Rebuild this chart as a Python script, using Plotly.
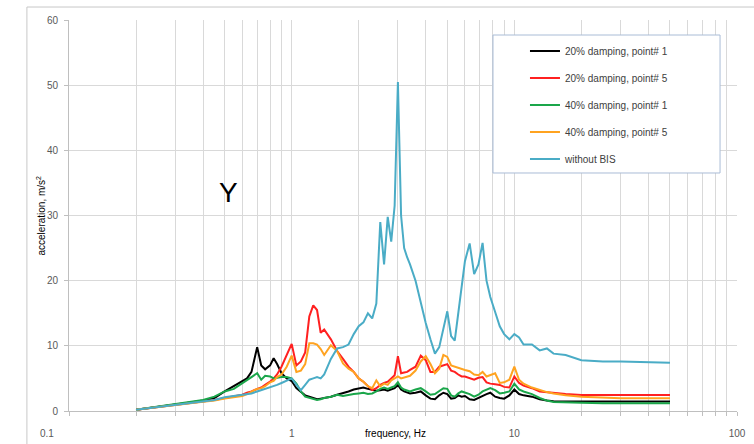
import plotly.graph_objects as go

freq = [0.2, 0.25, 0.3, 0.35, 0.4, 0.45, 0.5, 0.55, 0.6, 0.63, 0.66, 0.7, 0.73, 0.76, 0.8, 0.83, 0.86, 0.9, 0.95,
        1.0, 1.05, 1.1, 1.15, 1.2, 1.25, 1.3, 1.35, 1.4, 1.5, 1.6, 1.7, 1.8, 1.9, 2.0, 2.1, 2.2, 2.3, 2.4, 2.5,
        2.6, 2.7, 2.8, 2.9, 3.0, 3.1, 3.2, 3.3, 3.4, 3.6, 3.8, 4.0, 4.2, 4.4, 4.6, 4.8, 5.0, 5.2, 5.4, 5.6, 5.8,
        6.0, 6.3, 6.6, 6.9, 7.2, 7.5, 7.8, 8.2, 8.6, 9.0, 9.5, 10.0, 10.5, 11, 12, 13, 14, 15, 17, 20, 25, 30, 40, 50]

damp20_p1 = [0.2, 0.6, 1.0, 1.3, 1.6, 2.0, 3.0, 3.8, 4.6, 5.0, 6.0, 9.8, 7.0, 6.4, 7.0, 8.1, 7.2, 5.8, 5.0,
             4.6, 3.5, 3.0, 2.4, 2.2, 2.0, 1.8, 1.9, 2.0, 2.2, 2.5, 2.7, 3.0, 3.3, 3.5, 3.6, 3.4, 3.3, 3.1, 3.2,
             3.3, 3.1, 3.3, 3.5, 4.0, 3.3, 3.0, 2.9, 2.7, 2.8, 3.0, 2.4, 1.9, 1.8, 2.4, 2.8, 2.6, 1.9, 2.0, 2.4, 2.2,
             2.3, 1.8, 1.7, 2.0, 2.4, 2.6, 2.8, 2.2, 2.0, 1.9, 2.4, 3.3, 2.6, 2.4, 2.2, 1.8, 1.6, 1.5, 1.45, 1.45,
             1.45, 1.45, 1.45, 1.45]

damp20_p5 = [0.2, 0.6, 1.0, 1.3, 1.5, 1.7, 2.0, 2.3, 2.5, 2.8, 3.0, 3.4, 3.6, 4.0, 4.5, 5.0, 5.6, 6.8, 8.5,
             10.3, 7.0, 7.6, 9.0, 14.5, 16.2, 15.5, 12.0, 12.5, 11.0, 9.2, 8.0, 6.8, 6.0, 5.0, 4.5, 3.8, 3.2, 3.5, 4.0,
             4.3, 4.5, 5.0, 5.5, 8.4, 5.8, 5.9, 6.0, 6.3, 6.8, 8.5, 7.8, 6.0, 6.0, 6.8, 7.0, 7.2, 6.2, 6.0, 5.6, 5.3,
             5.3, 5.0, 4.8, 5.1, 5.2, 4.4, 4.2, 4.1, 4.0, 3.7, 3.6, 5.3, 4.3, 3.9, 3.5, 3.0, 2.9, 2.7, 2.6, 2.45,
             2.45, 2.45, 2.45, 2.45]

damp40_p1 = [0.2, 0.7, 1.1, 1.4, 1.7, 2.2, 3.0, 3.4, 4.2, 4.7, 5.2, 5.8, 4.8, 5.4, 5.3, 5.0, 5.1, 5.2, 5.2,
             5.0, 4.2, 3.0, 2.2, 2.0, 1.8, 1.7, 1.8, 2.0, 2.2, 2.5, 2.3, 2.5, 2.6, 2.7, 2.8, 2.6, 2.7, 3.0, 3.4,
             3.6, 3.4, 3.6, 3.8, 4.4, 3.6, 3.3, 3.2, 3.0, 3.3, 3.5, 3.0, 2.5, 2.6, 3.0, 3.5, 3.4, 2.4, 2.2, 2.7, 3.0,
             2.8, 2.6, 2.2, 2.5, 3.0, 3.2, 3.5, 3.2, 2.7, 2.8, 3.0, 4.2, 3.3, 3.0, 2.6, 2.0, 1.6, 1.4, 1.3, 1.25,
             1.2, 1.2, 1.2, 1.2]

damp40_p5 = [0.2, 0.6, 1.0, 1.2, 1.4, 1.6, 1.9, 2.1, 2.3, 2.6, 3.0, 3.4, 3.5, 3.8, 4.4, 4.6, 5.2, 5.6, 6.8,
             8.5, 6.0, 6.2, 7.2, 10.4, 10.4, 10.2, 9.5, 8.6, 10.1, 9.2, 7.3, 6.5, 6.0, 5.0, 4.5, 3.8, 3.5, 4.7, 3.8,
             4.2, 4.0, 4.7, 5.0, 5.3, 5.0, 5.1, 5.3, 5.4, 6.2, 7.6, 8.4, 7.2, 5.8, 6.5, 8.6, 8.3, 7.0, 6.8, 6.6, 6.4,
             6.3, 6.1, 5.6, 5.5, 6.0, 5.3, 5.5, 5.8, 4.3, 4.4, 4.8, 6.8, 4.8, 4.2, 3.6, 3.2, 2.9, 2.7, 2.4, 2.2,
             2.0, 1.95, 1.95, 1.95]

no_bis = [0.2, 0.6, 1.0, 1.3, 1.5, 1.7, 2.1, 2.3, 2.4, 2.6, 2.7, 3.0, 3.2, 3.4, 3.6, 3.8, 4.0, 4.3, 4.7,
          5.0, 4.0, 3.2, 4.0, 4.8, 5.0, 5.2, 5.0, 5.6, 8.0, 9.6, 9.8, 10.2, 11.8, 13.0, 13.6, 15.0, 14.2, 16.5, 29.0,
          22.5, 29.8, 26.0, 31.5, 50.5, 30.0, 25.0, 23.6, 22.5, 20.0, 16.5, 13.5, 11.0, 8.8, 9.8, 12.5, 15.3, 11.5,
          10.8, 15.0, 19.5, 23.0, 25.7, 21.0, 22.5, 25.8, 20.0, 17.5, 15.2, 13.0, 11.8, 11.0, 11.8, 11.3, 10.2,
          10.2, 9.3, 9.6, 8.8, 8.6, 7.8, 7.6, 7.6, 7.5, 7.4]

series_names = ["20% damping, point# 1", "20% damping, point# 5", "40% damping, point# 1",
                "40% damping, point# 5", "without BIS"]
series_values = [damp20_p1, damp20_p5, damp40_p1, damp40_p5, no_bis]
series_colors = ["#000000", "#ff2020", "#1aa64a", "#ffa320", "#4aacc6"]

x_tickvals = [0.1, 0.2, 0.3, 0.4, 0.5, 0.6, 0.7, 0.8, 0.9,
              1, 2, 3, 4, 5, 6, 7, 8, 9,
              10, 20, 30, 40, 50, 60, 70, 80, 90, 100]
x_ticktext = ["", "", "", "", "", "", "", "", "",
              "1", "", "", "", "", "", "", "", "",
              "10", "", "", "", "", "", "", "", "", "100"]
first_x_label = "0.1"

fig = go.Figure()
for i, (name, vals, col) in enumerate(zip(series_names, series_values, series_colors)):
    fig.add_trace(go.Scatter(x=freq, y=vals, mode="lines", name=name, legendgroup=f"g{i}",
                             line=dict(color=col, width=2)))

grid = "#d9d9d9"
tick_font = dict(family="Liberation Sans, Arial, sans-serif", size=10, color="#595959")
fig.update_layout(
    width=754, height=444, autosize=False,
    margin=dict(l=69, r=17, t=20, b=33),
    paper_bgcolor="white", plot_bgcolor="white",
    font=tick_font,
    showlegend=True,
    legend=dict(x=0.6826, y=0.958, xanchor="left", yanchor="top",
                bgcolor="rgba(0,0,0,0)", borderwidth=0,
                font=dict(size=10, color="#404040"), tracegroupgap=8),
    xaxis=dict(type="log", range=[-1, 2], tickvals=x_tickvals, ticktext=x_ticktext,
               showgrid=True, gridcolor=grid, gridwidth=1, automargin=False,
               showline=True, linecolor="#bfbfbf", linewidth=1,
               ticks="outside", ticklen=4, tickcolor="#bfbfbf",
               ticklabelstandoff=9, zeroline=False),
    yaxis=dict(range=[0, 60], dtick=10, tick0=0, automargin=False,
               showgrid=True, gridcolor=grid, gridwidth=1,
               showline=True, linecolor="#bfbfbf", linewidth=1,
               ticks="outside", ticklen=4, tickcolor="#bfbfbf",
               ticklabelstandoff=4, zeroline=False),
    shapes=[
        dict(type="rect", xref="paper", yref="paper", x0=-0.063, x1=1.1, y0=-0.3, y1=1.0332,
             line=dict(color="#c8c8c8", width=1), fillcolor="rgba(0,0,0,0)", layer="below"),
        dict(type="rect", xref="paper", yref="paper", x0=0.6347, x1=0.9746, y0=0.6087, y1=0.9616,
             line=dict(color="#a9bcd6", width=1), fillcolor="white", layer="above"),
    ],
    annotations=[
        dict(text=first_x_label, xref="paper", yref="paper", x=(47 - 69) / 668, y=(411 - 433) / 391,
             showarrow=False, font=tick_font, xanchor="center", yanchor="middle"),
        dict(text="Y", xref="paper", yref="paper", x=(228 - 69) / 668, y=(411 - 193) / 391,
             showarrow=False, font=dict(size=28, color="#000000"), xanchor="center", yanchor="middle"),
        dict(text="acceleration, m/s<sup>2</sup>", xref="paper", yref="paper", x=(40 - 69) / 668, y=0.5,
             textangle=-90, showarrow=False, font=dict(size=10, color="#000000"),
             xanchor="center", yanchor="middle"),
        dict(text="frequency, Hz", xref="paper", yref="paper", x=(395 - 69) / 668, y=(411 - 433) / 391,
             showarrow=False, font=dict(size=10, color="#000000"), xanchor="center", yanchor="middle"),
    ],
)

fig.write_html("out.html", config={"responsive": False, "displayModeBar": False},
               post_script="document.body.style.margin='0';document.body.style.overflow='hidden';")
